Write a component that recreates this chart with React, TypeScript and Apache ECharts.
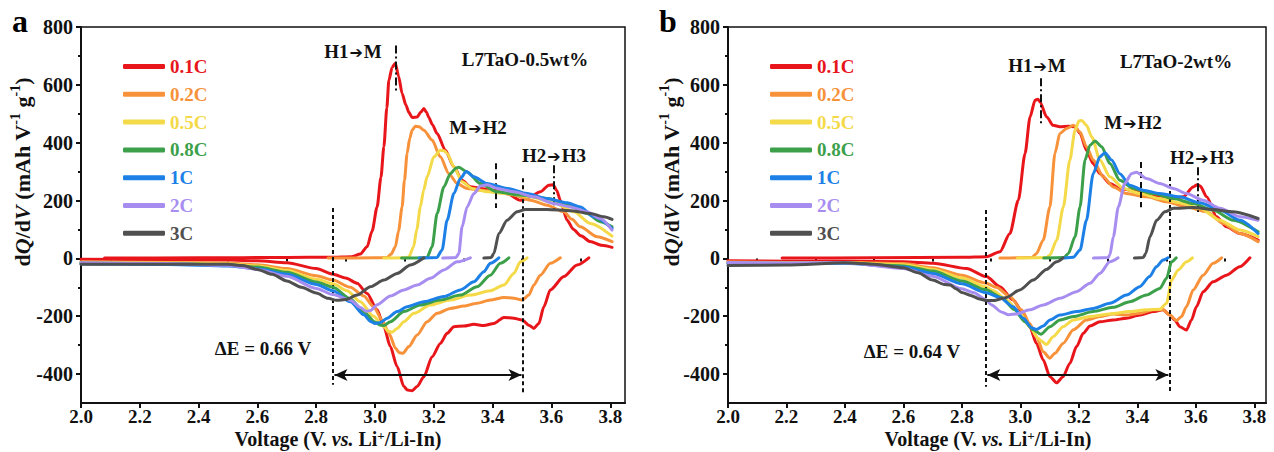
import React, { useEffect, useRef } from 'react';
import * as echarts from 'echarts';

const FONT = '"Liberation Serif", "Times New Roman", serif';

const RATES = ['0.1C', '0.2C', '0.5C', '0.8C', '1C', '2C', '3C'];
const COLORS = ['#E8161B', '#F7923A', '#F4DA48', '#3BA049', '#1C80E6', '#A78DF0', '#505050'];

const X_MAJOR = [2.0, 2.2, 2.4, 2.6, 2.8, 3.0, 3.2, 3.4, 3.6, 3.8];
const X_MINOR = [2.1, 2.3, 2.5, 2.7, 2.9, 3.1, 3.3, 3.5, 3.7];
const Y_MAJOR = [-400, -200, 0, 200, 400, 600, 800];
const Y_MINOR = [-300, -100, 100, 300, 500, 700];

// ---------- panel a : L7TaO-0.5wt% ----------
const A_CHG_01 = [[2.08,1],[2.4,2],[2.7,3],[2.85,4],[2.92,6],[2.95,15],[2.973,40],[2.99,95],[3.007,178],[3.02,280],[3.03,386],[3.04,520],[3.047,616],[3.058,660],[3.069,675],[3.08,630],[3.092,570],[3.105,530],[3.115,505],[3.126,487],[3.143,489],[3.155,505],[3.166,518],[3.175,505],[3.182,489],[3.195,462],[3.211,432],[3.239,374],[3.268,317],[3.296,270],[3.324,248],[3.358,242],[3.404,236],[3.449,224],[3.494,201],[3.528,213],[3.562,230],[3.591,253],[3.605,255],[3.618,235],[3.63,201],[3.653,132],[3.675,100],[3.7,78],[3.732,58],[3.77,45],[3.806,38]];
const A_DIS_01 = [[3.727,2],[3.687,-23],[3.642,-63],[3.596,-109],[3.574,-167],[3.557,-225],[3.54,-242],[3.525,-232],[3.5,-213],[3.472,-207],[3.438,-204],[3.404,-225],[3.37,-232],[3.336,-228],[3.302,-234],[3.268,-236],[3.245,-259],[3.222,-294],[3.194,-340],[3.166,-409],[3.143,-443],[3.125,-458],[3.11,-455],[3.098,-443],[3.075,-374],[3.052,-305],[3.03,-236],[3.007,-178],[2.973,-121],[2.939,-86],[2.9,-68],[2.857,-55],[2.8,-35],[2.7,-15],[2.6,-8],[2.5,-6],[2.3,-4],[2.0,-3]];
const A_CHG_02 = [[2.84,1],[3.0,2],[3.041,3],[3.055,15],[3.069,40],[3.08,95],[3.092,178],[3.1,270],[3.109,363],[3.118,415],[3.126,443],[3.137,457],[3.15,455],[3.166,443],[3.194,409],[3.222,351],[3.251,293],[3.279,259],[3.313,242],[3.358,236],[3.415,230],[3.472,219],[3.528,201],[3.585,184],[3.642,161],[3.67,135],[3.698,109],[3.755,75],[3.806,58]];
const A_DIS_02 = [[3.63,2],[3.596,-17],[3.562,-58],[3.54,-92],[3.523,-127],[3.5,-144],[3.472,-138],[3.438,-135],[3.392,-144],[3.347,-155],[3.302,-165],[3.256,-173],[3.211,-190],[3.177,-219],[3.143,-265],[3.115,-305],[3.095,-328],[3.082,-326],[3.07,-311],[3.047,-259],[3.024,-213],[2.995,-167],[2.962,-130],[2.916,-100],[2.857,-75],[2.8,-60],[2.7,-35],[2.6,-22],[2.5,-16],[2.3,-14],[2.0,-12]];
const A_CHG_05 = [[3.03,1],[3.1,2],[3.115,5],[3.131,40],[3.142,100],[3.154,178],[3.165,235],[3.177,282],[3.2,351],[3.222,374],[3.235,372],[3.245,363],[3.268,317],[3.296,265],[3.33,242],[3.381,230],[3.449,224],[3.528,213],[3.608,192],[3.676,161],[3.732,121],[3.806,77]];
const A_DIS_05 = [[3.517,2],[3.494,-12],[3.472,-52],[3.438,-92],[3.392,-112],[3.324,-127],[3.256,-144],[3.188,-161],[3.132,-190],[3.098,-219],[3.075,-242],[3.058,-255],[3.045,-252],[3.03,-236],[2.995,-200],[2.95,-150],[2.905,-112],[2.857,-88],[2.8,-72],[2.7,-42],[2.6,-26],[2.5,-19],[2.3,-16],[2.0,-14]];
const A_CHG_08 = [[3.09,1],[3.17,2],[3.177,4],[3.194,40],[3.211,155],[3.234,247],[3.256,293],[3.275,312],[3.285,315],[3.313,299],[3.358,259],[3.415,230],[3.494,219],[3.585,207],[3.664,184],[3.721,155],[3.766,127],[3.806,109]];
const A_DIS_08 = [[3.455,2],[3.426,-17],[3.392,-58],[3.347,-98],[3.29,-127],[3.222,-144],[3.154,-161],[3.098,-184],[3.052,-219],[3.03,-232],[3.015,-230],[3.0,-220],[2.962,-185],[2.916,-140],[2.857,-100],[2.8,-82],[2.7,-48],[2.6,-30],[2.5,-22],[2.3,-18],[2.0,-16]];
const A_CHG_1 = [[3.15,1],[3.21,3],[3.228,29],[3.245,132],[3.268,224],[3.29,276],[3.31,300],[3.336,282],[3.381,259],[3.449,242],[3.517,224],[3.585,207],[3.653,192],[3.698,178],[3.744,144],[3.806,104]];
const A_DIS_1 = [[3.421,2],[3.392,-17],[3.37,-46],[3.336,-81],[3.29,-109],[3.234,-132],[3.166,-150],[3.109,-167],[3.075,-184],[3.041,-207],[3.018,-222],[3.0,-225],[2.985,-218],[2.962,-195],[2.916,-150],[2.857,-112],[2.8,-90],[2.7,-55],[2.6,-36],[2.5,-26],[2.3,-21],[2.0,-19]];
const A_CHG_2 = [[3.23,1],[3.275,3],[3.285,17],[3.296,109],[3.313,178],[3.336,224],[3.358,250],[3.381,255],[3.415,242],[3.472,230],[3.54,213],[3.608,190],[3.664,178],[3.721,161],[3.766,138],[3.806,98]];
const A_DIS_2 = [[3.324,2],[3.279,-12],[3.234,-40],[3.188,-69],[3.143,-92],[3.098,-109],[3.052,-130],[3.007,-160],[2.985,-180],[2.97,-183],[2.95,-170],[2.916,-145],[2.857,-125],[2.8,-104],[2.7,-62],[2.6,-38],[2.5,-24],[2.3,-18],[2.0,-15]];
const A_CHG_3 = [[3.37,1],[3.395,3],[3.404,17],[3.421,86],[3.449,132],[3.483,161],[3.511,169],[3.585,169],[3.664,165],[3.732,155],[3.778,144],[3.806,135]];
const A_DIS_3 = [[3.166,2],[3.12,-23],[3.075,-52],[3.03,-75],[2.984,-98],[2.939,-127],[2.9,-142],[2.87,-145],[2.84,-138],[2.8,-120],[2.75,-100],[2.7,-78],[2.65,-55],[2.6,-38],[2.55,-25],[2.5,-20],[2.3,-20],[2.0,-20]];

// ---------- panel b : L7TaO-2wt% ----------
const B_CHG_01 = [[2.185,1],[2.5,2],[2.8,4],[2.885,6],[2.93,23],[2.964,86],[2.993,201],[3.016,363],[3.033,489],[3.05,547],[3.06,550],[3.067,541],[3.09,489],[3.112,460],[3.135,455],[3.164,457],[3.187,455],[3.204,432],[3.226,374],[3.249,328],[3.272,293],[3.306,259],[3.34,242],[3.386,234],[3.432,227],[3.477,213],[3.523,207],[3.557,213],[3.591,247],[3.605,255],[3.615,250],[3.637,213],[3.671,144],[3.705,109],[3.751,86],[3.813,63]];
const B_DIS_01 = [[3.785,2],[3.75,-29],[3.705,-58],[3.659,-81],[3.625,-115],[3.602,-167],[3.585,-213],[3.568,-248],[3.545,-236],[3.528,-213],[3.511,-196],[3.488,-178],[3.454,-184],[3.408,-196],[3.363,-207],[3.317,-213],[3.272,-219],[3.238,-234],[3.215,-259],[3.192,-305],[3.169,-363],[3.146,-409],[3.124,-430],[3.101,-409],[3.078,-351],[3.055,-294],[3.032,-236],[3.01,-190],[2.975,-144],[2.93,-98],[2.884,-63],[2.816,-35],[2.702,-17],[2.6,-12],[2.4,-10],[2.2,-10],[2.0,-8]];
const B_CHG_02 = [[2.93,1],[3.04,3],[3.055,17],[3.078,63],[3.101,178],[3.118,363],[3.135,432],[3.158,449],[3.181,460],[3.204,437],[3.226,386],[3.249,340],[3.283,282],[3.318,247],[3.363,224],[3.432,213],[3.5,196],[3.568,178],[3.637,161],[3.694,121],[3.751,86],[3.813,58]];
const B_DIS_02 = [[3.688,2],[3.659,-17],[3.625,-58],[3.591,-109],[3.568,-167],[3.551,-201],[3.534,-215],[3.511,-196],[3.488,-178],[3.454,-178],[3.408,-190],[3.363,-196],[3.317,-192],[3.272,-201],[3.226,-213],[3.181,-247],[3.146,-294],[3.118,-328],[3.101,-345],[3.078,-323],[3.055,-271],[3.032,-225],[3.004,-178],[2.964,-132],[2.918,-100],[2.88,-85],[2.8,-58],[2.7,-32],[2.6,-18],[2.4,-14],[2.2,-14],[2.0,-12]];
const B_CHG_05 = [[2.99,1],[3.09,3],[3.101,12],[3.124,63],[3.147,178],[3.169,340],[3.187,443],[3.2,475],[3.21,477],[3.226,460],[3.244,420],[3.272,340],[3.306,282],[3.352,242],[3.409,224],[3.477,207],[3.545,192],[3.614,173],[3.682,132],[3.751,98],[3.813,75]];
const B_DIS_05 = [[3.588,2],[3.568,-12],[3.54,-40],[3.517,-75],[3.5,-155],[3.477,-176],[3.431,-178],[3.374,-184],[3.306,-192],[3.238,-201],[3.181,-213],[3.146,-236],[3.112,-271],[3.089,-298],[3.07,-285],[3.061,-276],[3.032,-236],[2.998,-190],[2.953,-144],[2.907,-112],[2.88,-98],[2.8,-68],[2.7,-38],[2.6,-22],[2.4,-15],[2.2,-15],[2.0,-14]];
const B_CHG_08 = [[3.08,1],[3.15,3],[3.164,17],[3.187,75],[3.204,178],[3.221,340],[3.238,391],[3.255,406],[3.278,386],[3.306,328],[3.34,270],[3.386,242],[3.454,224],[3.523,207],[3.591,190],[3.659,167],[3.728,132],[3.813,92]];
const B_DIS_08 = [[3.533,2],[3.517,-12],[3.5,-69],[3.477,-104],[3.431,-127],[3.374,-150],[3.317,-169],[3.249,-184],[3.181,-201],[3.135,-213],[3.101,-236],[3.07,-262],[3.044,-247],[3.015,-219],[2.98,-178],[2.935,-135],[2.88,-108],[2.8,-78],[2.7,-44],[2.6,-26],[2.4,-16],[2.2,-17],[2.0,-16]];
const B_CHG_1 = [[3.15,1],[3.181,4],[3.204,29],[3.226,132],[3.249,293],[3.272,351],[3.289,365],[3.312,340],[3.34,293],[3.374,253],[3.42,236],[3.477,224],[3.545,213],[3.614,192],[3.682,167],[3.751,132],[3.813,86]];
const B_DIS_1 = [[3.505,2],[3.488,-6],[3.465,-29],[3.442,-63],[3.408,-98],[3.363,-127],[3.306,-155],[3.249,-173],[3.192,-184],[3.135,-196],[3.101,-213],[3.078,-234],[3.055,-246],[3.038,-240],[3.01,-207],[2.975,-167],[2.93,-135],[2.88,-118],[2.8,-88],[2.7,-52],[2.6,-30],[2.4,-17],[2.2,-19],[2.0,-18]];
const B_CHG_2 = [[3.25,1],[3.3,3],[3.306,12],[3.318,75],[3.335,178],[3.357,259],[3.38,293],[3.397,298],[3.432,276],[3.477,259],[3.523,242],[3.568,224],[3.625,201],[3.682,173],[3.751,144],[3.813,132]];
const B_DIS_2 = [[3.334,2],[3.306,-12],[3.272,-52],[3.238,-86],[3.192,-115],[3.135,-138],[3.078,-161],[3.032,-178],[2.987,-192],[2.96,-195],[2.935,-185],[2.9,-160],[2.884,-144],[2.839,-118],[2.8,-105],[2.7,-62],[2.6,-35],[2.4,-15],[2.2,-16],[2.0,-14]];
const B_CHG_3 = [[3.39,1],[3.42,3],[3.429,17],[3.443,75],[3.466,132],[3.494,161],[3.523,173],[3.591,176],[3.659,169],[3.728,161],[3.813,138]];
const B_DIS_3 = [[3.146,2],[3.124,-12],[3.089,-38],[3.044,-75],[2.998,-109],[2.953,-135],[2.907,-146],[2.884,-146],[2.86,-140],[2.83,-128],[2.8,-118],[2.78,-105],[2.76,-92],[2.74,-90],[2.7,-75],[2.65,-50],[2.6,-32],[2.5,-20],[2.4,-15],[2.2,-23],[2.0,-25]];

const A_CHG = [A_CHG_01, A_CHG_02, A_CHG_05, A_CHG_08, A_CHG_1, A_CHG_2, A_CHG_3];
const A_DIS = [A_DIS_01, A_DIS_02, A_DIS_05, A_DIS_08, A_DIS_1, A_DIS_2, A_DIS_3];
const B_CHG = [B_CHG_01, B_CHG_02, B_CHG_05, B_CHG_08, B_CHG_1, B_CHG_2, B_CHG_3];
const B_DIS = [B_DIS_01, B_DIS_02, B_DIS_05, B_DIS_08, B_DIS_1, B_DIS_2, B_DIS_3];

// annotation guide lines (voltage, dQ/dV)
const A_GUIDES = { h1m: [3.07, 736, 575], mh2: [3.41, 329, 174], h2h3: [3.607, 322, 160], left: [2.857, 174, -437], right: [3.503, 277, -465], arrowY: -403 };
const B_GUIDES = { h1m: [3.07, 623, 467], mh2: [3.41, 333, 177], h2h3: [3.607, 315, 160], left: [2.882, 167, -444], right: [3.511, 281, -465], arrowY: -403 };

const DASHDOT = [8, 3, 2, 3];
const DASH = [6, 4];
const DOT = [4, 3];

function vline(x: number, y1: number, y2: number, type: any) {
  const ls = { color: '#111', width: 2, type };
  return [{ coord: [x, y1], lineStyle: ls }, { coord: [x, y2], lineStyle: ls }];
}

function guideSeries(p: number, g: any) {
  const arrowLs = { color: '#111', width: 2, type: 'solid' };
  return {
    type: 'line', name: '_guides' + p, data: [], xAxisIndex: p, yAxisIndex: p, silent: true, z: 20,
    markLine: {
      silent: true, symbol: ['none', 'none'], label: { show: false }, emphasis: { disabled: true }, animation: false,
      data: [
        vline(g.h1m[0], g.h1m[1], g.h1m[2], DASHDOT),
        vline(g.mh2[0], g.mh2[1], g.mh2[2], DASH),
        vline(g.h2h3[0], g.h2h3[1], g.h2h3[2], DASHDOT),
        vline(g.left[0], g.left[1], g.left[2], DOT),
        vline(g.right[0], g.right[1], g.right[2], DOT),
        [
          { coord: [g.left[0] + 0.005, g.arrowY], symbol: 'arrow', symbolSize: [9, 13], lineStyle: arrowLs },
          { coord: [g.right[0] - 0.005, g.arrowY], symbol: 'arrow', symbolSize: [9, 13], lineStyle: arrowLs },
        ],
      ],
    },
  };
}

function panelSeries(p: number, chg: number[][][], dis: number[][][]) {
  const out: any[] = [];
  RATES.forEach((r, i) => {
    [chg[i], dis[i]].forEach((d) => {
      out.push({
        type: 'line', name: r, data: d, xAxisIndex: p, yAxisIndex: p,
        showSymbol: false, symbol: 'none', smooth: 0.25, smoothMonotone: 'x',
        lineStyle: { color: COLORS[i], width: 3, cap: 'round', join: 'round' },
        itemStyle: { color: COLORS[i] }, z: 2 + i, silent: true,
      });
    });
  });
  return out;
}

function majorX(gi: number, max: number) {
  return {
    type: 'value', gridIndex: gi, min: 2.0, max, position: 'bottom',
    axisLine: { show: true, onZero: false, lineStyle: { color: '#111', width: 2 } },
    axisTick: { show: true, inside: false, length: 5, lineStyle: { color: '#111', width: 2 }, customValues: X_MAJOR },
    axisLabel: { show: true, customValues: X_MAJOR, margin: 4, formatter: (v: number) => v.toFixed(1), color: '#111', fontFamily: FONT, fontWeight: 'bold', fontSize: 19, lineHeight: 19 },
    splitLine: { show: false },
  };
}
function minorX(gi: number, max: number) {
  return {
    type: 'value', gridIndex: gi, min: 2.0, max, position: 'bottom',
    axisLine: { show: false },
    axisTick: { show: true, inside: false, length: 3, lineStyle: { color: '#111', width: 2 }, customValues: X_MINOR },
    axisLabel: { show: false }, splitLine: { show: false },
  };
}
function majorY(gi: number) {
  return {
    type: 'value', gridIndex: gi, min: -500, max: 800, position: 'left',
    axisLine: { show: true, onZero: false, lineStyle: { color: '#111', width: 2 } },
    axisTick: { show: true, inside: false, length: 5, lineStyle: { color: '#111', width: 2 }, customValues: Y_MAJOR },
    axisLabel: { show: true, customValues: Y_MAJOR, margin: 8, color: '#111', fontFamily: FONT, fontWeight: 'bold', fontSize: 20 },
    splitLine: { show: false },
  };
}
function minorY(gi: number) {
  return {
    type: 'value', gridIndex: gi, min: -500, max: 800, position: 'left',
    axisLine: { show: false },
    axisTick: { show: true, inside: false, length: 3, lineStyle: { color: '#111', width: 2 }, customValues: Y_MINOR },
    axisLabel: { show: false }, splitLine: { show: false },
  };
}

function legendFor(left: number) {
  return {
    left, top: 52, orient: 'vertical', icon: 'roundRect', itemWidth: 42, itemHeight: 5, itemGap: 8.8,
    selectedMode: false,
    data: RATES.map((r, i) => ({ name: r, textStyle: { color: COLORS[i] } })),
    textStyle: { fontFamily: FONT, fontWeight: 'bold', fontSize: 19, lineHeight: 16 },
  };
}

function rich(size: number, supSize: number, lh: number) {
  return {
    b: { fontFamily: FONT, fontWeight: 'bold', fontSize: size, lineHeight: lh, verticalAlign: 'bottom', fill: '#111' },
    i: { fontFamily: FONT, fontWeight: 'bold', fontStyle: 'italic', fontSize: size, lineHeight: lh, verticalAlign: 'bottom', fill: '#111' },
    s: { fontFamily: FONT, fontWeight: 'bold', fontSize: supSize, lineHeight: supSize + 2, verticalAlign: 'top', fill: '#111' },
    a: { fontFamily: '"DejaVu Sans", sans-serif', fontWeight: 'bold', fontSize: size - 3, lineHeight: lh, verticalAlign: 'bottom', fill: '#111', padding: [0, 1, 1, 1] },
  };
}

function txt(x: number, y: number, text: string, size = 19, rotation = 0, supSize = 12, lh = size + 3) {
  return {
    type: 'text', x, y, rotation, silent: true, z: 30,
    style: { text, rich: rich(size, supSize, lh), align: 'center', verticalAlign: 'middle' },
  };
}

const X_TITLE = '{b|Voltage (V. }{i|vs.}{b| Li}{s|+}{b|/Li-In)}';
const Y_TITLE = '{b|d}{i|Q}{b|/d}{i|V}{b| (mAh V}{s|-1}{b| g}{s|-1}{b|)}';

export default function App() {
  const ref = useRef<HTMLDivElement>(null);
  useEffect(() => {
    if (!ref.current) return;
    const chart = echarts.init(ref.current, undefined, { renderer: 'svg' });
    const option: any = {
      animation: false,
      backgroundColor: '#ffffff',
      grid: [
        { left: 81, top: 27, width: 544, height: 376, show: true, borderColor: '#111', borderWidth: 1.5, backgroundColor: 'transparent' },
        { left: 728, top: 27, width: 538, height: 376, show: true, borderColor: '#111', borderWidth: 1.5, backgroundColor: 'transparent' },
      ],
      xAxis: [majorX(0, 3.85), majorX(1, 3.84), minorX(0, 3.85), minorX(1, 3.84)],
      yAxis: [majorY(0), majorY(1), minorY(0), minorY(1)],
      legend: [legendFor(118), legendFor(765)],
      series: [
        ...panelSeries(0, A_CHG, A_DIS),
        ...panelSeries(1, B_CHG, B_DIS),
        guideSeries(0, A_GUIDES),
        guideSeries(1, B_GUIDES),
      ],
      graphic: [
        { type: 'text', x: 20, y: 21, silent: true, style: { text: 'a', fill: '#000', font: `bold 32px ${FONT}`, align: 'center', verticalAlign: 'middle' } },
        { type: 'text', x: 668, y: 21, silent: true, style: { text: 'b', fill: '#000', font: `bold 32px ${FONT}`, align: 'center', verticalAlign: 'middle' } },
        txt(353, 50, '{b|H1}{a|➔}{b|M}'),
        txt(525, 58, '{b|L7TaO-0.5wt%}'),
        txt(478, 126, '{b|M}{a|➔}{b|H2}'),
        txt(554, 154, '{b|H2}{a|➔}{b|H3}'),
        txt(263, 347, '{b|ΔE = 0.66 V}'),
        txt(1037, 64, '{b|H1}{a|➔}{b|M}'),
        txt(1176, 60, '{b|L7TaO-2wt%}'),
        txt(1133, 121, '{b|M}{a|➔}{b|H2}'),
        txt(1202, 156, '{b|H2}{a|➔}{b|H3}'),
        txt(912, 350, '{b|ΔE = 0.64 V}'),
        txt(338, 439, X_TITLE, 20, 0, 13, 20),
        txt(988, 439, X_TITLE, 20, 0, 13, 20),
        txt(21, 172, Y_TITLE, 22, Math.PI / 2, 14),
        txt(670, 172, Y_TITLE, 22, Math.PI / 2, 14),
      ],
    };
    chart.setOption(option);
    return () => chart.dispose();
  }, []);
  return <div ref={ref} style={{ position: 'absolute', left: 0, top: 0, width: 1274, height: 452 }} />;
}
